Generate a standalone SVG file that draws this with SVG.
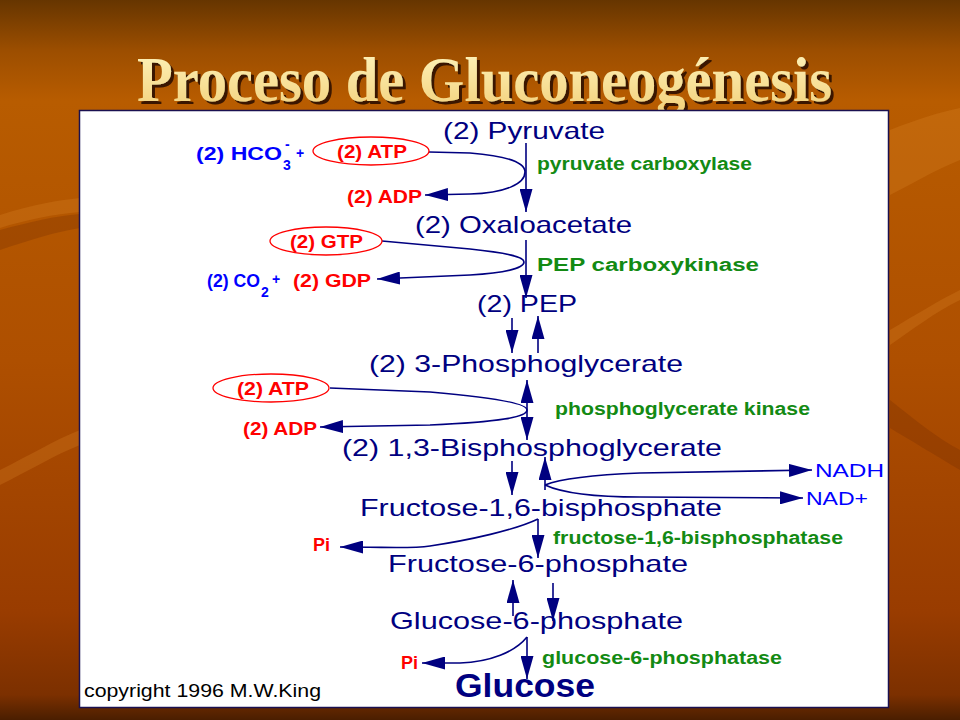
<svg xmlns="http://www.w3.org/2000/svg" width="960" height="720" viewBox="0 0 960 720">
<defs>
<linearGradient id="bg" x1="0" y1="0" x2="0" y2="1">
<stop offset="0" stop-color="#663500"/>
<stop offset="0.07" stop-color="#9C4E00"/>
<stop offset="0.14" stop-color="#B85C00"/>
<stop offset="0.5" stop-color="#AE4F00"/>
<stop offset="0.85" stop-color="#993C00"/>
<stop offset="0.965" stop-color="#7C3000"/>
<stop offset="1" stop-color="#4A1E00"/>
</linearGradient>
<linearGradient id="tg" x1="0" y1="0" x2="0" y2="1">
<stop offset="0" stop-color="#FFF6C0"/>
<stop offset="1" stop-color="#F2CF78"/>
</linearGradient>
<filter id="shadow" filterUnits="userSpaceOnUse" x="0" y="20" width="960" height="110">
<feOffset in="SourceAlpha" dx="3" dy="3" result="off"/>
<feFlood flood-color="#3A1800"/>
<feComposite in2="off" operator="in" result="sh"/>
<feMerge><feMergeNode in="sh"/><feMergeNode in="SourceGraphic"/></feMerge>
</filter>
<marker id="ah" viewBox="0 0 23 13" refX="23" refY="6.5" markerWidth="23" markerHeight="13" markerUnits="userSpaceOnUse" orient="auto">
<path d="M0,0 L23,6.5 L0,13 z" fill="#000080"/>
</marker>
<marker id="as" viewBox="0 0 23 13" refX="23" refY="6.5" markerWidth="23" markerHeight="13" markerUnits="userSpaceOnUse" orient="auto-start-reverse">
<path d="M0,0 L23,6.5 L0,13 z" fill="#000080"/>
</marker>
</defs>
<style>
.sans{font-family:"Liberation Sans",Arial,sans-serif}
.ttl{font-family:"Liberation Serif","Times New Roman",serif;font-size:64px;font-weight:bold}
.cmp{font-size:24px;fill:#000080}
.big{font-size:33px;font-weight:bold}
.enz{font-size:18px;font-weight:bold;fill:#138A13}
.red{font-size:18px;font-weight:bold;fill:#FF0000}
.blu{font-size:18px;font-weight:bold;fill:#0000FF}
.nad{font-size:19px;fill:#0000FF}
.sm{font-size:14px}
.cpy{font-size:18px;fill:#000000}
.ell{fill:none;stroke:#FF0000;stroke-width:1.3}
.ln{fill:none;stroke:#000080;stroke-width:1.6}
</style>

<!-- background -->
<rect width="960" height="720" fill="url(#bg)"/>
<g opacity="0.25" fill="#E08A2A">
<path d="M0,215 C30,205 60,200 80,198 L80,212 C55,214 25,220 0,228 z"/>
<path d="M0,470 C30,455 55,440 80,430 L80,445 C55,455 30,470 0,485 z"/>
<path d="M890,130 C915,120 940,112 960,108 L960,160 C935,170 910,185 890,195 z"/>
<path d="M890,330 C915,315 940,300 960,290 L960,300 C935,312 912,330 890,345 z"/>
</g>
<g opacity="0.25" fill="#6A2600">
<path d="M0,230 C30,222 55,216 80,214 L80,228 C55,232 30,240 0,250 z"/>
<path d="M890,400 C915,420 940,440 960,450 L960,470 C935,455 910,440 890,428 z"/>
</g>

<!-- title -->
<g id="title">
<text class="ttl" x="137" y="101" fill="url(#tg)" filter="url(#shadow)" textLength="695" lengthAdjust="spacingAndGlyphs">Proceso de Gluconeogénesis</text>
</g>

<!-- panel -->
<rect x="79.5" y="110.5" width="809" height="597" fill="#FFFFFF" stroke="#1A1050" stroke-width="1.5"/>

<!-- connectors -->
<g id="connectors">
<line class="ln" x1="526" y1="143" x2="526" y2="212" marker-end="url(#ah)"/>
<path class="ln" d="M429,152 L470,153 C508,156 525,163 525,172 C525,184 505,193 470,194 L425,195" marker-end="url(#ah)"/>
<line class="ln" x1="526" y1="240" x2="526" y2="298" marker-end="url(#ah)"/>
<path class="ln" d="M382,241 L470,249 C508,253 524,257 524,262 C524,268 505,273 470,275 L377,279" marker-end="url(#ah)"/>
<line class="ln" x1="512" y1="318" x2="512" y2="353" marker-end="url(#ah)"/>
<line class="ln" x1="538" y1="353" x2="538" y2="316" marker-end="url(#ah)"/>
<path class="ln" d="M330,388 L430,392 C500,398 527,404 527,410 C527,417 500,422 430,425 L320,427" marker-end="url(#ah)"/>
<line class="ln" x1="527" y1="380" x2="527" y2="440" marker-start="url(#as)" marker-end="url(#ah)"/>
<line class="ln" x1="512" y1="461" x2="512" y2="495" marker-end="url(#ah)"/>
<line class="ln" x1="545" y1="490" x2="545" y2="457" marker-end="url(#ah)"/>
<path class="ln" d="M545,485 C560,479 590,475 640,473 L812,470" marker-end="url(#ah)"/>
<path class="ln" d="M545,485 C560,492 590,497 640,497 L803,498" marker-end="url(#ah)"/>
<line class="ln" x1="538" y1="519" x2="538" y2="558" marker-end="url(#ah)"/>
<path class="ln" d="M538,519 C515,530 470,540 430,546 C410,549 390,547 340,547" marker-end="url(#ah)"/>
<line class="ln" x1="513" y1="616" x2="513" y2="580" marker-end="url(#ah)"/>
<line class="ln" x1="553" y1="583" x2="553" y2="621" marker-end="url(#ah)"/>
<line class="ln" x1="527" y1="637" x2="527" y2="679" marker-end="url(#ah)"/>
<path class="ln" d="M527,637 C515,652 490,662 460,663 L422,663" marker-end="url(#ah)"/>
</g>

<!-- compounds -->
<g id="pyruvate"><text class="sans cmp" x="443" y="139" textLength="162" lengthAdjust="spacingAndGlyphs">(2) Pyruvate</text></g>
<g id="oxaloacetate"><text class="sans cmp" x="415" y="233" textLength="217" lengthAdjust="spacingAndGlyphs">(2) Oxaloacetate</text></g>
<g id="pep"><text class="sans cmp" x="477" y="312" textLength="100" lengthAdjust="spacingAndGlyphs">(2) PEP</text></g>
<g id="pg3"><text class="sans cmp" x="369" y="372" textLength="314" lengthAdjust="spacingAndGlyphs">(2) 3-Phosphoglycerate</text></g>
<g id="bpg13"><text class="sans cmp" x="342" y="456" textLength="380" lengthAdjust="spacingAndGlyphs">(2) 1,3-Bisphosphoglycerate</text></g>
<g id="f16bp"><text class="sans cmp" x="360" y="516" textLength="362" lengthAdjust="spacingAndGlyphs">Fructose-1,6-bisphosphate</text></g>
<g id="f6p"><text class="sans cmp" x="388" y="572" textLength="300" lengthAdjust="spacingAndGlyphs">Fructose-6-phosphate</text></g>
<g id="g6p"><text class="sans cmp" x="390" y="629" textLength="293" lengthAdjust="spacingAndGlyphs">Glucose-6-phosphate</text></g>
<g id="glucose"><text class="sans cmp big" x="455" y="697" textLength="140" lengthAdjust="spacingAndGlyphs">Glucose</text></g>

<!-- enzymes -->
<g id="enz1"><text class="sans enz" x="537" y="170" textLength="215" lengthAdjust="spacingAndGlyphs">pyruvate carboxylase</text></g>
<g id="enz2"><text class="sans enz" x="537" y="271" textLength="222" lengthAdjust="spacingAndGlyphs">PEP carboxykinase</text></g>
<g id="enz3"><text class="sans enz" x="555" y="415" textLength="255" lengthAdjust="spacingAndGlyphs">phosphoglycerate kinase</text></g>
<g id="enz4"><text class="sans enz" x="553" y="544" textLength="290" lengthAdjust="spacingAndGlyphs">fructose-1,6-bisphosphatase</text></g>
<g id="enz5"><text class="sans enz" x="542" y="664" textLength="240" lengthAdjust="spacingAndGlyphs">glucose-6-phosphatase</text></g>

<!-- cofactors -->
<g id="hco3">
<text class="sans blu" x="196" y="160" textLength="86" lengthAdjust="spacingAndGlyphs">(2) HCO</text>
<text class="sans blu sm" x="283" y="170">3</text>
<text class="sans blu sm" x="285" y="149">-</text>
<text class="sans blu sm" x="296" y="158">+</text>
</g>
<g id="atp1"><ellipse class="ell" cx="371" cy="151" rx="58" ry="14"/><text class="sans red" x="337" y="158" textLength="70" lengthAdjust="spacingAndGlyphs">(2) ATP</text></g>
<g id="adp1"><text class="sans red" x="347" y="203" textLength="75" lengthAdjust="spacingAndGlyphs">(2) ADP</text></g>
<g id="gtp"><ellipse class="ell" cx="326" cy="241" rx="56" ry="14"/><text class="sans red" x="290" y="248" textLength="73" lengthAdjust="spacingAndGlyphs">(2) GTP</text></g>
<g id="co2gdp">
<text class="sans blu" x="207" y="287" textLength="53" lengthAdjust="spacingAndGlyphs">(2) CO</text>
<text class="sans blu sm" x="261" y="297">2</text>
<text class="sans blu sm" x="272" y="284">+</text>
<text class="sans red" x="293" y="287" textLength="78" lengthAdjust="spacingAndGlyphs">(2) GDP</text>
</g>
<g id="atp2"><ellipse class="ell" cx="271" cy="388" rx="58" ry="14"/><text class="sans red" x="237" y="395" textLength="72" lengthAdjust="spacingAndGlyphs">(2) ATP</text></g>
<g id="adp2"><text class="sans red" x="243" y="435" textLength="74" lengthAdjust="spacingAndGlyphs">(2) ADP</text></g>
<g id="nadh"><text class="sans nad" x="815" y="477" textLength="69" lengthAdjust="spacingAndGlyphs">NADH</text></g>
<g id="nadp"><text class="sans nad" x="806" y="505" textLength="62" lengthAdjust="spacingAndGlyphs">NAD+</text></g>
<g id="pi1"><text class="sans red" x="313" y="551" textLength="17" lengthAdjust="spacingAndGlyphs">Pi</text></g>
<g id="pi2"><text class="sans red" x="401" y="669" textLength="17" lengthAdjust="spacingAndGlyphs">Pi</text></g>

<g id="copyright"><text class="sans cpy" x="84" y="697" textLength="237" lengthAdjust="spacingAndGlyphs">copyright 1996 M.W.King</text></g>
</svg>
